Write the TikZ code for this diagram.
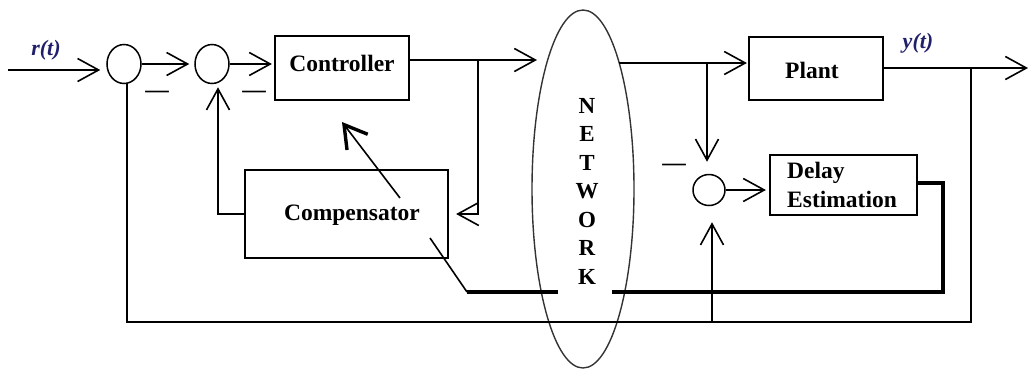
\documentclass[tikz,border=0pt]{standalone}
\usepackage{fontspec}
\setmainfont{Liberation Serif}
\usetikzlibrary{arrows.meta,shapes.geometric}
\definecolor{sigblue}{rgb}{0.12,0.12,0.42}
\begin{document}
\begin{tikzpicture}[x=1pt,y=-1pt,
  wire/.style={line width=1.6pt},
  heavywire/.style={line width=3.4pt},
  arr/.style={wire,-{Straight Barb[length=21pt,width=23pt]}},
  bigarr/.style={wire,-{Straight Barb[length=22pt,width=26pt,line width=3.4pt]}},
  sumjunc/.style={draw,ellipse,line width=1.5pt,minimum width=34pt,minimum height=39pt,inner sep=0pt},
  blockbox/.style args={#1/#2}{draw,line width=2.2pt,minimum width=#1pt,minimum height=#2pt,inner sep=0pt},
  txt/.style={inner sep=0pt,font=\fontsize{23.5}{29}\selectfont\bfseries},
  sig/.style={inner sep=0pt,text=sigblue,font=\fontsize{22}{26}\selectfont\bfseries\itshape},
  netstyle/.style={inner sep=0pt,align=center,font=\fontsize{23}{28.5}\selectfont\bfseries}]
\useasboundingbox (0,0) rectangle (1030,370);

% summing junctions
\node[sumjunc] (c1) at (124,64) {};
\node[sumjunc] (c2) at (212,64) {};
\node[sumjunc,minimum width=32pt,minimum height=31pt] (c3) at (709,190) {};

% blocks
\node[blockbox={134/64}] (ctrl) at (342,68) {};
\node[txt] (ctrltxt) at (342,63) {Controller};
\node[blockbox={134/63}] (plant) at (816,68.5) {};
\node[txt] (planttxt) at (812,70) {Plant};
\node[blockbox={203/88}] (comp) at (346.5,214) {};
\node[txt] (comptxt) at (352,215) {Compensator};
\node[blockbox={147/60}] (delay) at (843.5,185) {};
\node[txt,align=left,anchor=west] (delaytxt) at (787,184.5) {Delay\\Estimation};

% network
\node[draw=black!80,ellipse,line width=1.4pt,minimum width=102pt,minimum height=358pt,inner sep=0pt] (net) at (583,189) {};
\node[netstyle] (nettxt) at (587,191) {N\\E\\T\\W\\O\\R\\K};

% signal labels and signs
\node[sig] (rlbl) at (46,50) {r(t)};
\node[sig] (ylbl) at (918,43) {y(t)};
\node[txt] (m1) at (157,94) {—};
\node[txt] (m2) at (254,94) {—};
\node[txt] (m3) at (674,167) {—};

% forward path
\coordinate (rin) at (8,70);
\draw[arr,shorten >=6pt] (rin) -- (c1.west |- rin);
\draw[arr,shorten >=5pt] (c1.east) -- (c2.west);
\draw[arr,shorten >=2pt] (c2.east) -- (c2.east -| ctrl.west);
\coordinate (netin) at (537,60);
\draw[arr] (ctrl.east |- netin) -- (netin);
\coordinate (br1) at (478,60);
\draw[arr,shorten >=7pt] (br1) |- (comp.east);
\coordinate (netout) at (619,63);
\draw[arr,shorten >=1pt] (netout) -- (plant.west |- netout);
\coordinate (yout) at (1028,68);
\draw[arr] (plant.east |- yout) -- (yout);

% measurement feedback
\coordinate (br3) at (971,68);
\coordinate (bl) at (127,322);
\draw[wire] (br3) |- (bl) -- (bl |- c1.south);

% delay estimation branch
\coordinate (br2) at (707,63);
\draw[arr,shorten >=12pt] (br2) -- (br2 |- c3.north);
\coordinate (br4) at (712,322);
\draw[arr,shorten >=16pt] (br4) -- (br4 |- c3.south);
\draw[arr,shorten >=3pt] (c3.east) -- (delay.west |- c3.east);

% compensator loop
\draw[arr,shorten >=3pt] (comp.west) -| ([xshift=6pt]c2.south);

% estimated delay back to the compensator
\coordinate (dr) at (943,292);
\coordinate (gapR) at (612,292);
\coordinate (gapL) at (558,292);
\coordinate (diagEnd) at (467,292);
\coordinate (diagStart) at (430,238);
\draw[heavywire] ([yshift=2pt]delay.east) -| (dr) -- (gapR);
\draw[heavywire] (gapL) -- (diagEnd);
\draw[wire] (diagEnd) -- (diagStart);

% compensator acting on the controller
\coordinate (cc0) at (400,198);
\coordinate (cc1) at (342,122);
\draw[bigarr] (cc0) -- (cc1);
\end{tikzpicture}
\end{document}
